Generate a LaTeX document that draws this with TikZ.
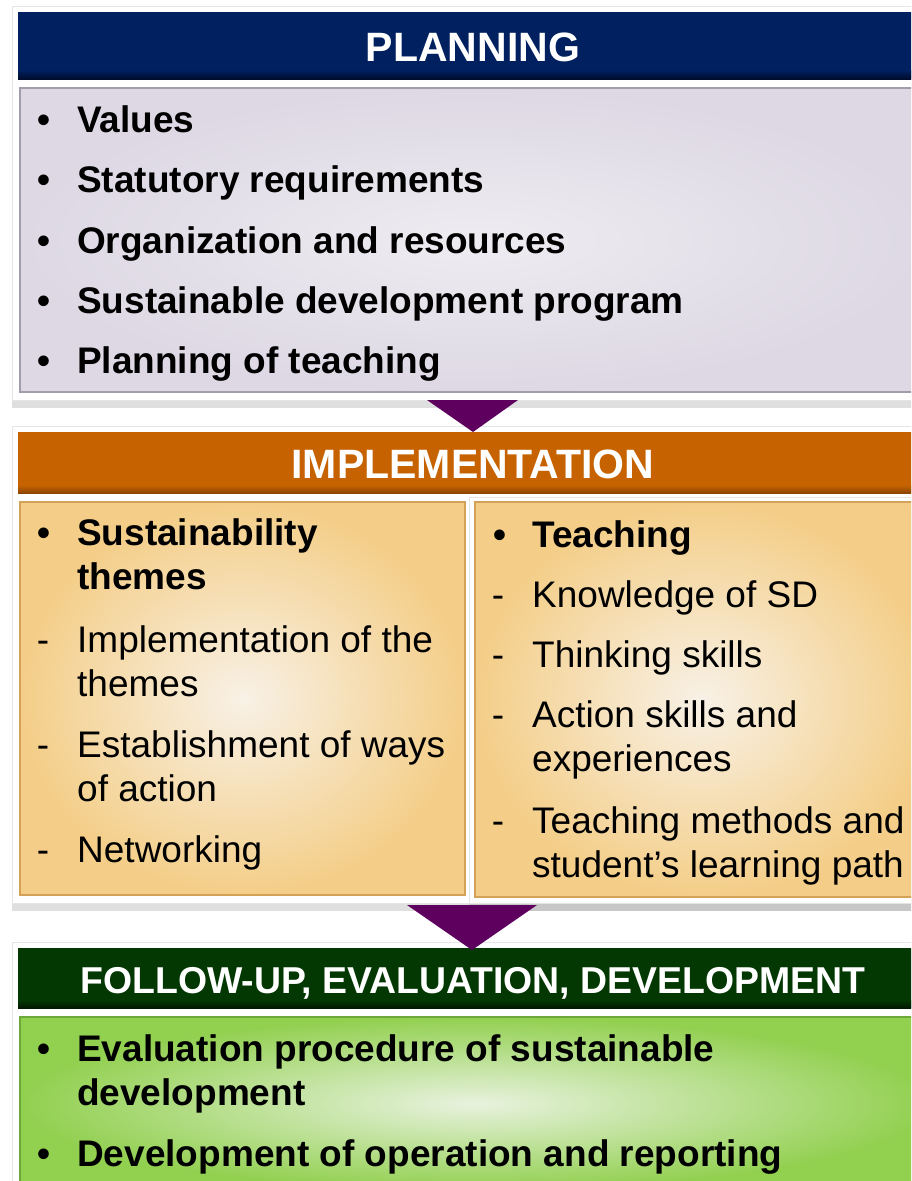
\documentclass[tikz,border=0pt]{standalone}
\usepackage{fontspec}
\setmainfont{Liberation Sans}
\usetikzlibrary{shadows}

\definecolor{navy}{HTML}{00205F}
\definecolor{navydark}{HTML}{000C2E}
\definecolor{graybase}{HTML}{DDD8E4}
\definecolor{graylight}{HTML}{EEECF1}
\definecolor{grayedge}{HTML}{A29DAA}
\definecolor{orangebar}{HTML}{C66300}
\definecolor{orangedark}{HTML}{8C4500}
\definecolor{orbase}{HTML}{F4CE88}
\definecolor{orlight}{HTML}{F8F1E6}
\definecolor{oredge}{HTML}{D4A158}
\definecolor{dgreen}{HTML}{033803}
\definecolor{dgreendark}{HTML}{011801}
\definecolor{grbase}{HTML}{92D050}
\definecolor{grlight}{HTML}{E8F2DE}
\definecolor{gredge}{HTML}{6FA83A}
\definecolor{arrowpurple}{HTML}{5E005E}

\tikzset{
  frame/.style={fill=white, draw=black!10, line width=0.8pt,
    drop shadow={shadow xshift=0pt, shadow yshift=-8pt, opacity=0.25}},
  head/.style={anchor=base, inner sep=0pt, text=white,
    font=\bfseries\fontsize{41}{41}\selectfont},
  bul/.style={anchor=base, inner sep=0pt, font=\bfseries\fontsize{37}{44}\selectfont},
  dsh/.style={anchor=base, inner sep=0pt, font=\fontsize{37}{44}\selectfont},
  itembf/.style={anchor=base west, inner sep=0pt, align=left,
    font=\bfseries\fontsize{37}{44}\selectfont},
  itemrm/.style={anchor=base west, inner sep=0pt, align=left,
    font=\fontsize{37}{44}\selectfont},
  flow/.style={fill=arrowpurple}
}

\begin{document}
\begin{tikzpicture}[x=1pt, y=-1pt]
	\clip (0,0) rectangle (911,1181);
	\fill[white] (0,0) rectangle (911,1181);
	% planning
	\draw[frame] (12,6) rectangle (930,400);
	\fill[navy] (18,12) rectangle (930,79);
	\shade[top color=navy, bottom color=navydark] (18,70) rectangle (930,79);
	\shade[inner color=graylight, outer color=graybase, draw=grayedge, line width=1.5pt] (20,88) rectangle (930,392);
	\node[head] (plan) at (473,61) {PLANNING};
	\node[bul] (pb1) at (44,132) {•};
	\node[itembf] (p1) at (77,132) {Values};
	\node[bul] (pb2) at (44,192) {•};
	\node[itembf] (p2) at (77,192) {Statutory requirements};
	\node[bul] (pb3) at (44,253) {•};
	\node[itembf] (p3) at (77,253) {Organization and resources};
	\node[bul] (pb4) at (44,313) {•};
	\node[itembf] (p4) at (77,313) {Sustainable development program};
	\node[bul] (pb5) at (44,373) {•};
	\node[itembf] (p5) at (77,373) {Planning of teaching};
	% implementation (multi-line nodes sit on their last baseline)
	\draw[frame] (12,426) rectangle (930,903);
	\fill[orangebar] (18,432) rectangle (930,493);
	\shade[top color=orangebar, bottom color=orangedark] (18,485) rectangle (930,493);
	\shade[inner color=orlight, outer color=orbase, draw=oredge, line width=1.5pt] (20,502) rectangle (465,895);
	\draw[frame] (469,497) rectangle (930,903);
	\shade[inner color=orlight, outer color=orbase, draw=oredge, line width=1.5pt] (475,502) rectangle (930,897);
	\node[head] (impl) at (473,478) {IMPLEMENTATION};
	\node[bul] (lb1) at (44,545) {•};
	\node[itembf] (l1) at (77,589) {Sustainability\\themes};
	\node[dsh] (ld2) at (43,652) {-};
	\node[itemrm] (l2) at (77,696) {Implementation of the\\themes};
	\node[dsh] (ld3) at (43,757) {-};
	\node[itemrm] (l3) at (77,801) {Establishment of ways\\of action};
	\node[dsh] (ld4) at (43,862) {-};
	\node[itemrm] (l4) at (77,862) {Networking};
	\node[bul] (rb1) at (500,547) {•};
	\node[itembf] (r1) at (532,547) {Teaching};
	\node[dsh] (rd2) at (498,607) {-};
	\node[itemrm] (r2) at (532,607) {Knowledge of SD};
	\node[dsh] (rd3) at (498,667) {-};
	\node[itemrm] (r3) at (532,667) {Thinking skills};
	\node[dsh] (rd4) at (498,727) {-};
	\node[itemrm] (r4) at (532,771) {Action skills and\\experiences};
	\node[dsh] (rd5) at (498,833) {-};
	\node[itemrm] (r5) at (532,877) {Teaching methods and\\student’s learning path};
	% follow-up
	\draw[frame] (12,942) rectangle (930,1190);
	\fill[dgreen] (18,948) rectangle (930,1008);
	\shade[top color=dgreen, bottom color=dgreendark] (18,1000) rectangle (930,1008);
	\shade[inner color=grlight, outer color=grbase, draw=gredge, line width=1.5pt] (20,1017) rectangle (930,1190);
	\node[head, font=\bfseries\fontsize{37.4}{37.4}\selectfont] (follow) at (473,993) {FOLLOW-UP, EVALUATION, DEVELOPMENT};
	\node[bul] (gb1) at (44,1061) {•};
	\node[itembf] (g1) at (77,1105) {Evaluation procedure of sustainable\\development};
	\node[bul] (gb2) at (44,1166) {•};
	\node[itembf] (g2) at (77,1166) {Development of operation and reporting};
	% arrows between the stages
	\coordinate (t1) at (473,432);
	\coordinate (t2) at (472,950);
	\fill[flow] (427,400) -- (518,400) -- (t1) -- cycle;
	\fill[flow] (407,905) -- (537,905) -- (t2) -- cycle;
\end{tikzpicture}
\end{document}
